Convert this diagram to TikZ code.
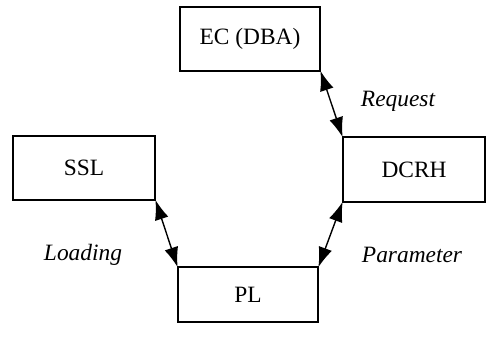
\documentclass[tikz,border=0pt]{standalone}
\usepackage{fontspec}
\setmainfont{Liberation Serif}
\usetikzlibrary{arrows.meta}
\begin{document}
\begin{tikzpicture}[x=0.5pt, y=-0.5pt,
    box/.style={draw, line width=0.7pt, inner sep=0pt, font=\fontsize{11.7}{14}\selectfont},
    link/.style={{Latex[length=10pt,width=7pt]}-{Latex[length=10pt,width=7pt]}, line width=0.7pt, shorten <=-0.5pt, shorten >=-0.5pt},
    lbl/.style={font=\fontsize{11.7}{14}\selectfont\itshape}]
    \useasboundingbox (0,0) rectangle (490,336);

    % Blocks
    \node[box, minimum width=70pt, minimum height=32pt] (ec) at (250,39) {EC (DBA)};
    \node[box, minimum width=71pt, minimum height=32pt] (ssl) at (84,168) {SSL};
    \node[box, minimum width=71pt, minimum height=32.5pt] (dcrh) at (414,169.5) {DCRH};
    \node[box, minimum width=70pt, minimum height=27.5pt] (pl) at (248,294.5) {PL};

    % Links
    \draw[link] (ec.south east) -- (dcrh.north west);
    \draw[link] (ssl.south east) -- (pl.north west);
    \draw[link] (dcrh.south west) -- (pl.north east);

    % Labels
    \node[lbl] (request) at (398,101) {Request};
    \node[lbl] (loading) at (83,255) {Loading};
    \node[lbl] (parameter) at (412,255) {Parameter};
\end{tikzpicture}
\end{document}
